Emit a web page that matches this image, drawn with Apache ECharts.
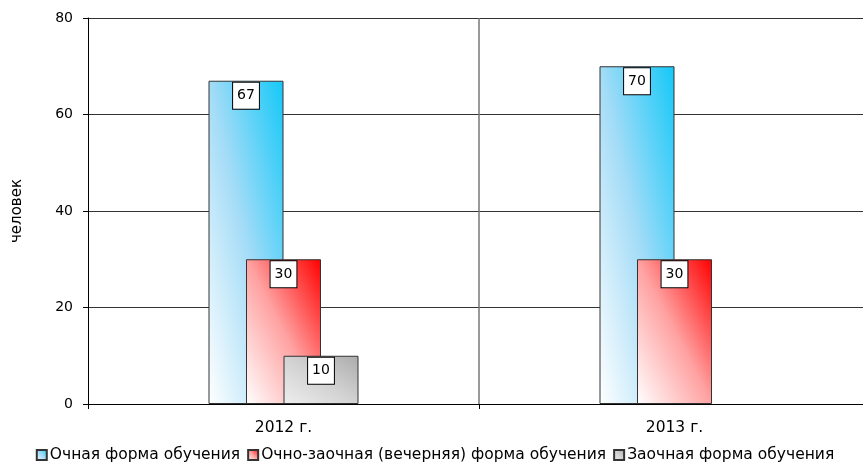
<!DOCTYPE html>
<html>
<head>
<meta charset="utf-8">
<script src="https://cdn.jsdelivr.net/npm/echarts@6/dist/echarts.min.js"></script>
<style>
  html, body { margin: 0; padding: 0; background: #fff; overflow: hidden; width: 863px; height: 469px; }
  #chart { width: 870px; height: 469px; }
</style>
</head>
<body>
<div id="chart"></div>
<script>
// ---- data ----
const categories = ['2012 г.', '2013 г.'];
const seriesNames = ['Очная форма обучения', 'Очно-заочная (вечерняя) форма обучения', 'Заочная форма обучения'];
const fullTime = [67, 70];
const eveningTime = [30, 30];
const extramural = [10, null];
const yAxisName = 'человек';
const yMin = 0, yMax = 80, yInterval = 20;

// ---- styling ----
const FONT = 'DejaVu Sans';
const gradStops = [
  ['#ffffff', '#a4dcf7', '#14c8f8'],
  ['#ffffff', '#ffa2a2', '#ff0000'],
  ['#eeeeee', '#d2d2d2', '#ababab']
];
const BAR_W = 75;

function grad(stops, x1, y1) {
  return new echarts.graphic.LinearGradient(0, 1, x1, y1, [
    { offset: 0, color: stops[0] },
    { offset: 0.5, color: stops[1] },
    { offset: 1, color: stops[2] }
  ]);
}

const seriesValues = [fullTime, eveningTime, extramural];

function makeSeries(dataFn) {
  return seriesValues.map((vals, i) => ({
    name: seriesNames[i],
    type: 'bar',
    barWidth: BAR_W,
    barGap: '-50%',
    data: dataFn(vals, i),
    itemStyle: { color: grad(gradStops[i], 1, 0), borderColor: '#333', borderWidth: 1 },
    label: {
      show: true,
      position: 'insideTop',
      distance: 2,
      fontFamily: FONT,
      fontSize: 14,
      color: '#000',
      backgroundColor: '#fff',
      borderColor: '#000',
      borderWidth: 1,
      lineHeight: 16,
      padding: [5, 4, 5, 4]
    },
    emphasis: { disabled: true }
  }));
}

const chart = echarts.init(document.getElementById('chart'), null, { renderer: 'canvas' });

const baseOption = {
  animation: false,
  backgroundColor: '#fff',
  grid: { left: 88, right: 0, top: 18, bottom: 65, containLabel: false },
  legend: {
    bottom: 1,
    left: 'center',
    itemWidth: 10,
    itemHeight: 10,
    itemGap: 7,
    icon: 'rect',
    textStyle: { fontFamily: FONT, fontSize: 15.5, color: '#000', padding: [0, 0, 0, -2] },
    data: seriesNames
  },
  xAxis: {
    type: 'category',
    data: categories,
    axisLine: { lineStyle: { color: '#000', width: 1 } },
    axisTick: { show: true, length: 5, lineStyle: { color: '#000' } },
    axisLabel: { fontFamily: FONT, fontSize: 15.5, color: '#000', margin: 16 },
    splitLine: { show: true, showMinLine: false, showMaxLine: false, lineStyle: { color: '#777', width: 1.5 } }
  },
  yAxis: {
    type: 'value',
    min: yMin,
    max: yMax,
    interval: yInterval,
    name: yAxisName,
    nameLocation: 'middle',
    nameGap: 63,
    nameTextStyle: { fontFamily: FONT, fontSize: 15, color: '#000' },
    axisLine: { show: true, lineStyle: { color: '#000', width: 1 } },
    axisTick: { show: true, length: 5, lineStyle: { color: '#000' } },
    axisLabel: { fontFamily: FONT, fontSize: 14, color: '#000', margin: 15 },
    splitLine: { show: true, lineStyle: { color: '#333', width: 1 } }
  },
  series: makeSeries(vals => vals.slice())
};

chart.setOption(baseOption);

// Diagonal gradient in bar-normalised space (like office "diagonal up")
const y0px = chart.convertToPixel({ gridIndex: 0 }, [0, 0])[1];
chart.setOption({
  series: makeSeries((vals, i) => vals.map(v => {
    if (v == null) return v;
    const h = Math.max(1, y0px - chart.convertToPixel({ gridIndex: 0 }, [0, v])[1]);
    const r = h / BAR_W;
    const r2 = r * r;
    const x1 = 2 * r2 / (1 + r2);
    const y1 = (r2 - 1) / (1 + r2);
    return { value: v, itemStyle: { color: grad(gradStops[i], x1, y1) } };
  }))
});
</script>
</body>
</html>
